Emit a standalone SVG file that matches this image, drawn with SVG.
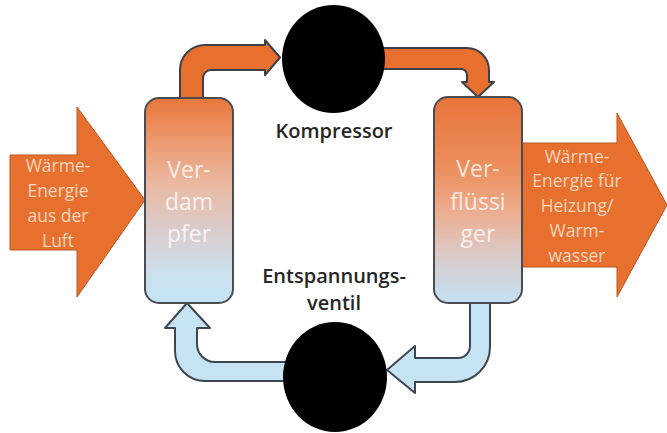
<svg xmlns="http://www.w3.org/2000/svg" width="667" height="433" viewBox="0 0 667 433">
  <defs>
    <linearGradient id="gEvap" x1="0" y1="0" x2="0" y2="1">
      <stop offset="0" stop-color="#e8763a"/>
      <stop offset="0.18" stop-color="#ec9468"/>
      <stop offset="0.42" stop-color="#eab9a2"/>
      <stop offset="0.62" stop-color="#dccac8"/>
      <stop offset="0.85" stop-color="#cbe0ec"/>
      <stop offset="1" stop-color="#c3e3f4"/>
    </linearGradient>
    <linearGradient id="gCond" x1="0" y1="0" x2="0" y2="1">
      <stop offset="0" stop-color="#e8743a"/>
      <stop offset="0.35" stop-color="#ec8f5e"/>
      <stop offset="0.55" stop-color="#edac8d"/>
      <stop offset="0.76" stop-color="#dbc9c6"/>
      <stop offset="1" stop-color="#c2e2f3"/>
    </linearGradient>
    <style>
      .big { fill: #e8702f; stroke: #b8561f; stroke-width: 1; }
      .hot { fill: #e8702f; stroke: #3d4048; stroke-width: 2; stroke-linejoin: round; }
      .cold { fill: #c6e3f3; stroke: #3d4650; stroke-width: 2; stroke-linejoin: round; }
      .box { stroke: #4a4c52; stroke-width: 2; }
      .dot { fill: #000; }
      .atxt { font-family: "Open Sans", "Liberation Sans", sans-serif; font-size: 17.5px; fill: #f8d6bf; text-anchor: middle; }
      .btxt { font-family: "Open Sans", "Liberation Sans", sans-serif; font-size: 23px; fill: #ffffff; fill-opacity: 0.8; text-anchor: middle; }
      .lbl { font-family: "Open Sans", "Liberation Sans", sans-serif; font-size: 20px; font-weight: 600; fill: #262626; text-anchor: middle; }
    </style>
  </defs>

  <g id="connectors">
    <path id="c-evap-comp" class="hot" d="M180,98 L180,70 A25,25 0 0 1 205,45 L265,45 L265,40 L280,57.5 L265,75 L265,70 L211,70 A8,8 0 0 0 203,78 L203,98 Z"/>
    <path id="c-comp-cond" class="hot" d="M378,48 L467,48 A22,22 0 0 1 489,70 L489,82 L494,82 L478,97 L462,82 L467,82 L467,75 A6,6 0 0 0 461,69 L378,69 Z"/>
    <path id="c-cond-valve" class="cold" d="M470,303 L490,303 L490,347 A35,35 0 0 1 455,382 L415,382 L415,393 L387,370 L415,346 L415,358 L458,358 A12,12 0 0 0 470,346 Z"/>
    <path id="c-valve-evap" class="cold" d="M292,362 L292,381 L205,381 A30,30 0 0 1 175,351 L175,328 L165,328 L187,303 L210,328 L197,328 L197,344 A18,18 0 0 0 215,362 Z"/>
  </g>

  <g id="in-arrow">
    <polygon class="big" points="10,155 77,155 77,107 145,200 77,297 77,250 10,250"/>
    <text class="atxt" x="58" y="172">Wärme-</text>
    <text class="atxt" x="58" y="197">Energie</text>
    <text class="atxt" x="58" y="222">aus der</text>
    <text class="atxt" x="58" y="247">Luft</text>
  </g>

  <g id="out-arrow">
    <polygon class="big" points="522,143 617,143 617,113 667,205 617,297 617,267 522,267"/>
    <text class="atxt" x="577" y="163">Wärme-</text>
    <text class="atxt" x="577" y="187">Energie für</text>
    <text class="atxt" x="577" y="212">Heizung/</text>
    <text class="atxt" x="577" y="237">Warm-</text>
    <text class="atxt" x="577" y="262">wasser</text>
  </g>

  <g id="verdampfer">
    <rect class="box" x="145" y="98" width="88" height="205" rx="14" fill="url(#gEvap)"/>
    <text class="btxt" x="189" y="178">Ver-</text>
    <text class="btxt" x="189" y="210">dam</text>
    <text class="btxt" x="189" y="242">pfer</text>
  </g>

  <g id="verfluessiger">
    <rect class="box" x="434" y="97" width="88" height="206" rx="14" fill="url(#gCond)"/>
    <text class="btxt" x="478" y="177">Ver-</text>
    <text class="btxt" x="478" y="210">flüssi</text>
    <text class="btxt" x="478" y="242">ger</text>
  </g>

  <g id="kompressor">
    <ellipse class="dot" cx="333.5" cy="59" rx="51.5" ry="54"/>
    <text class="lbl" x="334" y="138">Kompressor</text>
  </g>

  <g id="ventil">
    <ellipse class="dot" cx="335" cy="377" rx="52" ry="55"/>
    <text class="lbl" x="334" y="283">Entspannungs-</text>
    <text class="lbl" x="334" y="310">ventil</text>
  </g>
</svg>
